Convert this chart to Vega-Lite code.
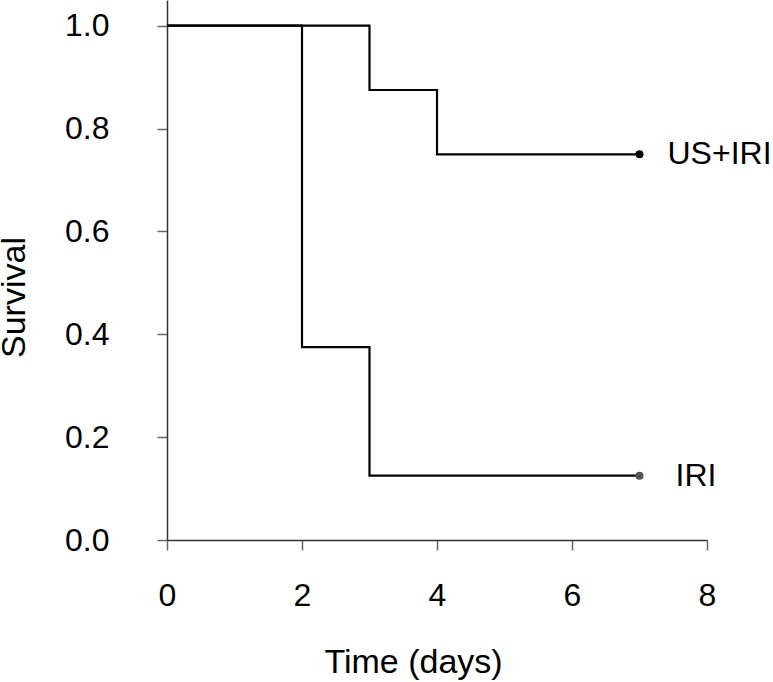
{
  "$schema": "https://vega.github.io/schema/vega-lite/v6.json",
  "width": 540,
  "height": 540,
  "autosize": {"type": "none"},
  "padding": {"left": 167, "top": 0, "right": 66, "bottom": 142},
  "background": "white",
  "config": {
    "view": {"stroke": null},
    "font": "Liberation Sans",
    "axis": {"grid": false, "domainColor": "#333", "tickColor": "#666", "tickSize": 10, "labelFont": "Liberation Sans", "titleFont": "Liberation Sans", "labelColor": "black", "titleColor": "black", "labelFontSize": 32, "titleFontSize": 34, "titleFontWeight": "normal", "domainWidth": 1.5, "tickWidth": 1.5, "labelFlush": false, "labelOverlap": false, "labelBound": false}
  },
  "datasets": {
    "curves": [
      {"group": "IRI", "time": 0, "survival": 1.0},
      {"group": "IRI", "time": 2, "survival": 0.375},
      {"group": "IRI", "time": 3, "survival": 0.125},
      {"group": "IRI", "time": 7, "survival": 0.125},
      {"group": "US+IRI", "time": 0, "survival": 1.0},
      {"group": "US+IRI", "time": 3, "survival": 0.875},
      {"group": "US+IRI", "time": 4, "survival": 0.75},
      {"group": "US+IRI", "time": 7, "survival": 0.75}
    ],
    "ends": [
      {"group": "US+IRI", "time": 7, "survival": 0.75, "label": "US+IRI"},
      {"group": "IRI", "time": 7, "survival": 0.125, "label": "IRI"}
    ]
  },
  "layer": [
    {
      "data": {"name": "curves"},
      "mark": {"type": "line", "interpolate": "step-after", "strokeWidth": 2.2, "color": "black"},
      "encoding": {
        "x": {"field": "time", "type": "quantitative", "scale": {"domain": [0, 8], "nice": false, "zero": false}, "axis": {"values": [0, 2, 4, 6, 8], "format": "d", "labelPadding": 30, "labelDx": -3, "title": "Time (days)", "titleX": 246, "titleY": 122, "titleBaseline": "middle", "titleAnchor": null}},
        "y": {"field": "survival", "type": "quantitative", "scale": {"domain": [0, 1.05], "nice": false}, "axis": {"values": [0, 0.2, 0.4, 0.6, 0.8, 1.0], "format": ".1f", "labelPadding": 48, "title": "Survival", "titleX": -153, "titleY": 297, "titleBaseline": "middle", "titleAlign": "center"}},
        "detail": {"field": "group", "type": "nominal"},
        "order": {"field": "time"}
      }
    },
    {
      "data": {"name": "ends"},
      "mark": {"type": "point", "filled": true, "size": 64, "opacity": 1},
      "encoding": {
        "x": {"field": "time", "type": "quantitative"},
        "y": {"field": "survival", "type": "quantitative"},
        "color": {"field": "group", "type": "nominal", "scale": {"domain": ["US+IRI", "IRI"], "range": ["black", "#555"]}, "legend": null}
      }
    },
    {
      "data": {"name": "ends"},
      "transform": [{"filter": "datum.label === 'US+IRI'"}],
      "mark": {"type": "text", "align": "left", "baseline": "middle", "fontSize": 32, "font": "Liberation Sans", "color": "black", "dx": 28},
      "encoding": {
        "x": {"field": "time", "type": "quantitative"},
        "y": {"field": "survival", "type": "quantitative"},
        "text": {"field": "label"}
      }
    },
    {
      "data": {"name": "ends"},
      "transform": [{"filter": "datum.label === 'IRI'"}],
      "mark": {"type": "text", "align": "left", "baseline": "middle", "fontSize": 32, "font": "Liberation Sans", "color": "black", "dx": 36},
      "encoding": {
        "x": {"field": "time", "type": "quantitative"},
        "y": {"field": "survival", "type": "quantitative"},
        "text": {"field": "label"}
      }
    }
  ]
}
